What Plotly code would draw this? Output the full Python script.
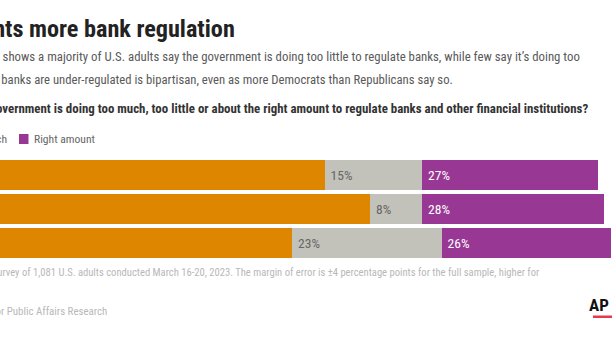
import plotly.graph_objects as go

groups = ["All adults", "Democrats", "Republicans"]
too_little = [57, 64, 52]
too_much = [15, 8, 23]
right_amount = [27, 28, 26]

C_LITTLE = "#DE8600"
C_MUCH = "#C2C2BA"
C_RIGHT = "#983894"

FONT = "Roboto Condensed, Roboto, sans-serif"

W, H = 612, 343
PT, PB = 158, 260  # plot area top / bottom in px


def py(y):
    return (PB - y) / (PB - PT)


def px(x):
    return x / W


fig = go.Figure()
fig.add_bar(y=groups, x=too_little, orientation="h", name="Too little",
            marker=dict(color=C_LITTLE, line=dict(width=0)))
fig.add_bar(y=groups, x=too_much, orientation="h", name="Too much",
            marker=dict(color=C_MUCH, line=dict(width=0)),
            text=[f" {v}%" for v in too_much], textposition="inside",
            insidetextanchor="start", textfont=dict(color="#666666", size=13.5, family=FONT))
fig.add_bar(y=groups, x=right_amount, orientation="h", name="Right amount",
            marker=dict(color=C_RIGHT, line=dict(width=0)),
            text=[f" {v}%" for v in right_amount], textposition="inside",
            insidetextanchor="start", textfont=dict(color="white", size=13.5, family=FONT))

GRAY = "#5A5A5A"
LIGHT = "#B8B8B8"
ann = []
ann.append(dict(text="<b>Public wants more bank regulation</b>", x=px(237), y=py(29),
                xanchor="right", yanchor="middle",
                font=dict(size=24.2, color="#222222", family=FONT)))
ann.append(dict(text="A new AP-NORC poll shows a majority of U.S. adults say the government is doing too little to regulate banks, while few say it’s doing too",
                x=px(582), y=py(56.5), xanchor="right", yanchor="middle",
                font=dict(size=12.8, color=GRAY, family=FONT)))
ann.append(dict(text="much. The view that banks are under-regulated is bipartisan, even as more Democrats than Republicans say so.",
                x=px(455), y=py(79), xanchor="right", yanchor="middle",
                font=dict(size=12.7, color=GRAY, family=FONT)))
ann.append(dict(text="<b>Do you think the government is doing too much, too little or about the right amount to regulate banks and other financial institutions?</b>",
                x=px(590), y=py(108.5), xanchor="right", yanchor="middle",
                font=dict(size=12.9, color="#333333", family=FONT)))
# legend
ann.append(dict(text="Right amount", x=px(32), y=py(139), xanchor="left", yanchor="middle",
                font=dict(size=11.6, color="#666666", family=FONT)))
ann.append(dict(text="Too much", x=px(8.5), y=py(139), xanchor="right", yanchor="middle",
                font=dict(size=11.6, color="#666666", family=FONT)))
ann.append(dict(text="Too little", x=px(-57), y=py(139), xanchor="right", yanchor="middle",
                font=dict(size=11.6, color="#666666", family=FONT)))
# footer
ann.append(dict(text="Source: AP-NORC survey of 1,081 U.S. adults conducted March 16-20, 2023. The margin of error is ±4 percentage points for the full sample, higher for",
                x=px(541), y=py(272.5), xanchor="right", yanchor="middle",
                font=dict(size=10.6, color=LIGHT, family=FONT)))
ann.append(dict(text="subgroups.",
                x=px(-30), y=py(292), xanchor="right", yanchor="middle",
                font=dict(size=10.6, color=LIGHT, family=FONT)))
ann.append(dict(text="The AP-NORC Center for Public Affairs Research",
                x=px(109), y=py(311.5), xanchor="right", yanchor="middle",
                font=dict(size=10.9, color=LIGHT, family=FONT)))
ann.append(dict(text="<b>AP</b>", x=px(611), y=py(305), xanchor="right", yanchor="middle",
                font=dict(size=17, color="#111111", family=FONT)))
for a in ann:
    a.update(xref="paper", yref="paper", showarrow=False)

shapes = []


def sq(x0, x1, color):
    shapes.append(dict(type="rect", xref="paper", yref="paper", x0=px(x0), x1=px(x1),
                       y0=py(144), y1=py(134), fillcolor=color, line=dict(width=0)))


sq(19, 28.5, C_RIGHT)
sq(-50, -40.5, C_MUCH)
sq(-110, -100.5, C_LITTLE)
shapes.append(dict(type="rect", xref="paper", yref="paper", x0=px(593), x1=px(612),
                   y0=py(318), y1=py(315.5), fillcolor="#E8384F", line=dict(width=0)))

scale = 6.5
x0px = -46
fig.update_layout(
    width=W, height=H, barmode="stack", bargap=4 / 34,
    margin=dict(l=0, r=0, t=PT, b=H - PB, pad=0),
    paper_bgcolor="white", plot_bgcolor="white",
    showlegend=False, annotations=ann, shapes=shapes,
    xaxis=dict(range=[-x0px / scale, (W - x0px) / scale], visible=False, fixedrange=True),
    yaxis=dict(autorange="reversed", visible=False, fixedrange=True),
)
fig.write_html("out.html", config={"displayModeBar": False})
